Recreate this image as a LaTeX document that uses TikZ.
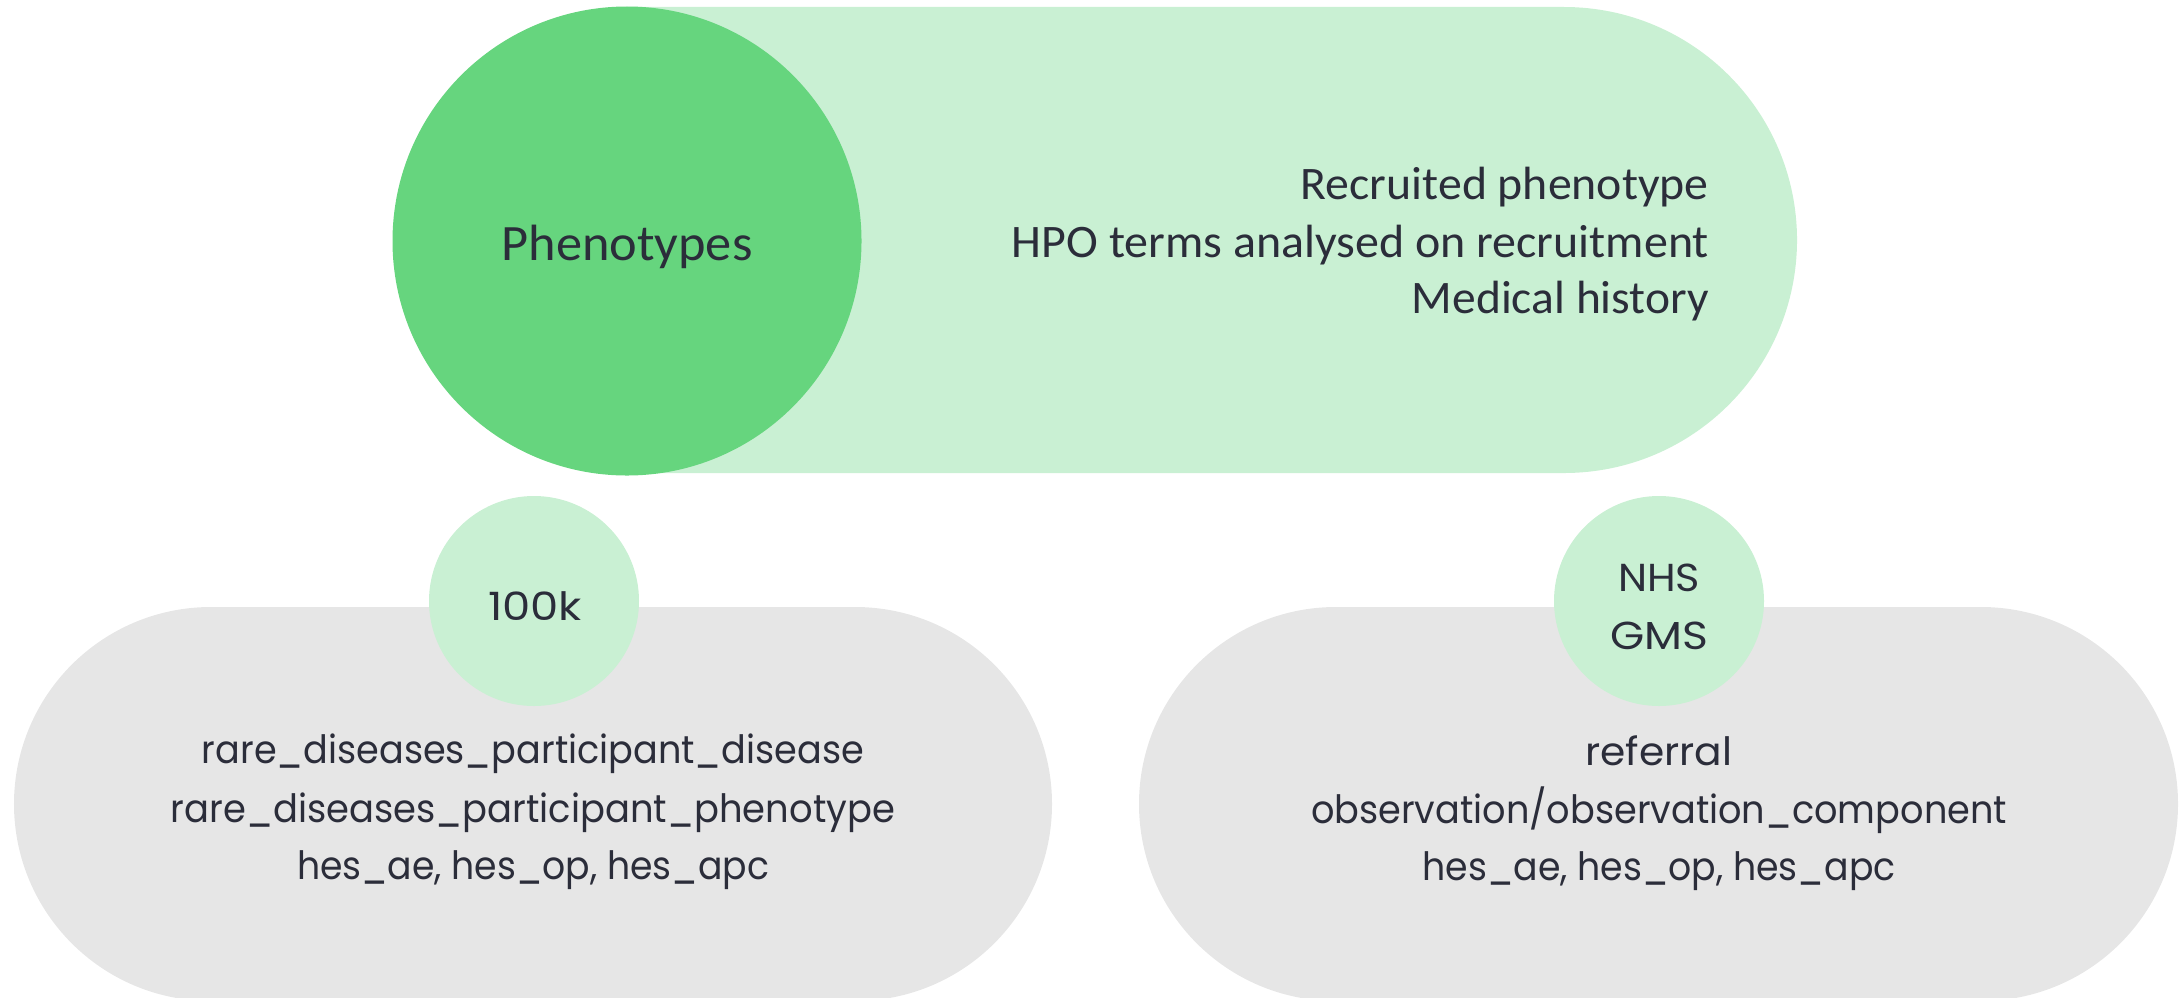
\documentclass[tikz,border=0pt]{standalone}
\usepackage{fontspec}
\usetikzlibrary{shapes.misc}
\setmainfont{Carlito}
\newfontfamily\geo{Poppins}
\definecolor{dkgreen}{RGB}{102,213,126}
\definecolor{ltgreen}{RGB}{201,240,211}
\definecolor{pillgray}{RGB}{230,230,230}
\definecolor{ink}{RGB}{43,45,58}
\newsavebox\fitbox
\newcommand{\fitw}[2]{\sbox\fitbox{#2}\edef\fitnat{\the\wd\fitbox}\pgfmathsetmacro\fitsx{#1*1.00375/\fitnat}\scalebox{\fitsx}[1]{\usebox\fitbox}}
\begin{document}
\begin{tikzpicture}[x=1bp,y=-1bp,
  pill/.style={rounded rectangle, inner sep=0, outer sep=0, draw=none},
  disc/.style={circle, inner sep=0, outer sep=0, draw=none},
  toptxt/.style={inner sep=0, text=ink, font=\fontsize{46.6bp}{57bp}\selectfont},
  bigtxt/.style={inner sep=0, text=ink, font=\fontsize{51bp}{60bp}\selectfont},
  geotxt/.style={inner sep=0, text=ink, font=\geo\fontsize{39bp}{58bp}\selectfont},
]
\useasboundingbox (0,0) rectangle (2179,997);
% top
\node[pill, fill=ltgreen, minimum width=1402bp, minimum height=466bp] (toppill) at (1096,240) {};
\node[disc, fill=dkgreen, minimum size=469bp] (phen) at (627,241) {};
\node[bigtxt, anchor=base] (phentxt) at (627,260) {\fitw{251}{Phenotypes}};
\node[toptxt, anchor=base east] (t1) at (1709,199) {\fitw{408}{Recruited phenotype}};
\node[toptxt, anchor=base east] (t2) at (1709,257) {\fitw{697}{HPO terms analysed on recruitment}};
\node[toptxt, anchor=base east] (t3) at (1709,313) {\fitw{297}{Medical history}};
% bottom left
\node[pill, fill=pillgray, minimum width=1038bp, minimum height=394bp] (lpill) at (533,804) {};
\node[disc, fill=ltgreen, minimum size=210bp] (kcirc) at (534,601) {};
\node[geotxt, anchor=base] (ktxt) at (535,620) {\fitw{94}{100k}};
\node[geotxt, anchor=base] (l1) at (533,763) {\fitw{662}{rare\_diseases\_participant\_disease}};
\node[geotxt, anchor=base] (l2) at (533,822) {\fitw{724}{rare\_diseases\_participant\_phenotype}};
\node[geotxt, anchor=base] (l3) at (533,879) {\fitw{472}{hes\_ae, hes\_op, hes\_apc}};
% bottom right
\node[pill, fill=pillgray, minimum width=1039bp, minimum height=394bp] (rpill) at (1658.5,804) {};
\node[disc, fill=ltgreen, minimum size=210bp] (gcirc) at (1659,601) {};
\node[geotxt, anchor=base] (g1) at (1659,591) {\fitw{82}{NHS}};
\node[geotxt, anchor=base] (g2) at (1659,649) {\fitw{98}{GMS}};
\node[geotxt, anchor=base] (r1) at (1659,765) {\fitw{147}{referral}};
\node[geotxt, anchor=base] (r2) at (1659,823) {\fitw{696}{observation/observation\_component}};
\node[geotxt, anchor=base] (r3) at (1659,880) {\fitw{473}{hes\_ae, hes\_op, hes\_apc}};
\end{tikzpicture}
\end{document}
